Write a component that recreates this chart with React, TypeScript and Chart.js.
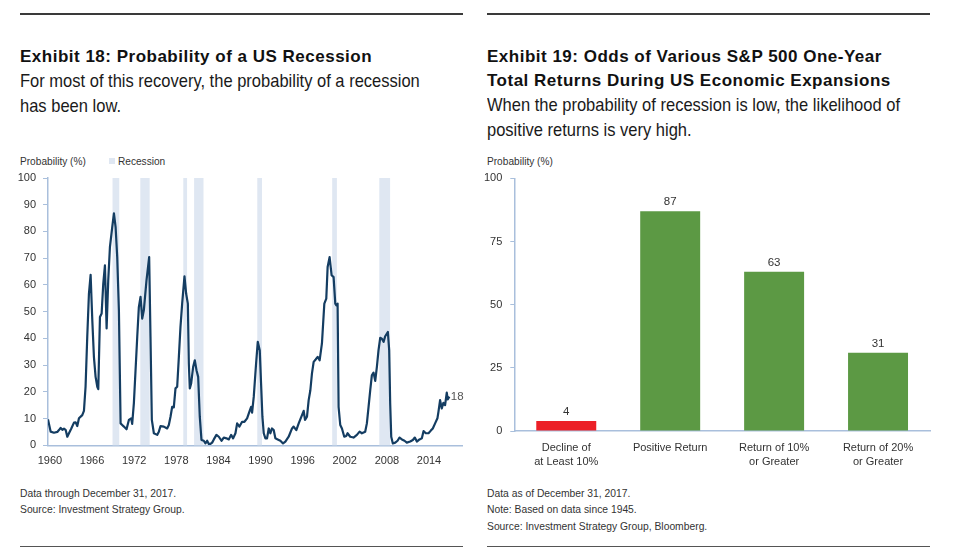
import React, { useEffect, useRef } from "react";
import { Chart, registerables } from "chart.js";

Chart.register(...registerables);

const SANS = '"Liberation Sans", Arial, sans-serif';
const AXIS = "#a9bfdc";
const TEXT = "#333333";

// ---------- Exhibit 18 data ----------
const probabilityYears = [1960.73, 1961.11, 1961.58, 1962.06, 1962.29, 1962.53, 1962.77, 1963.01, 1963.24, 1963.48, 1963.72, 1964.05, 1964.43, 1964.67, 1964.90, 1965.14, 1965.61, 1965.85, 1966.08, 1966.32, 1966.56, 1966.80, 1967.04, 1967.27, 1967.51, 1967.75, 1967.89, 1968.13, 1968.37, 1968.60, 1968.84, 1969.08, 1969.31, 1969.55, 1969.88, 1970.12, 1970.36, 1970.59, 1970.83, 1971.07, 1971.30, 1971.54, 1971.92, 1972.25, 1972.58, 1972.72, 1972.96, 1973.20, 1973.44, 1973.67, 1973.91, 1974.15, 1974.38, 1974.76, 1975.14, 1975.33, 1975.52, 1975.81, 1976.28, 1976.52, 1976.76, 1977.23, 1977.70, 1977.94, 1978.18, 1978.42, 1978.65, 1978.89, 1979.13, 1979.37, 1979.60, 1979.84, 1980.17, 1980.41, 1980.65, 1980.79, 1980.93, 1981.12, 1981.41, 1981.64, 1981.88, 1982.12, 1982.35, 1982.59, 1982.92, 1983.16, 1983.40, 1983.63, 1983.87, 1984.11, 1984.35, 1984.72, 1985.06, 1985.44, 1985.77, 1986.15, 1986.48, 1986.81, 1987.10, 1987.43, 1987.67, 1988.00, 1988.38, 1988.71, 1989.09, 1989.42, 1989.66, 1989.80, 1990.04, 1990.37, 1990.61, 1990.89, 1991.08, 1991.27, 1991.46, 1991.70, 1991.93, 1992.17, 1992.41, 1992.64, 1992.88, 1993.12, 1993.45, 1993.83, 1994.21, 1994.54, 1995.01, 1995.49, 1995.72, 1996.10, 1996.44, 1996.91, 1997.15, 1997.34, 1997.62, 1997.86, 1998.10, 1998.33, 1998.57, 1998.85, 1999.14, 1999.42, 1999.75, 2000.09, 2000.37, 2000.56, 2000.84, 2001.13, 2001.41, 2001.65, 2001.79, 2001.98, 2002.12, 2002.36, 2002.60, 2002.93, 2003.21, 2003.40, 2003.78, 2004.25, 2004.73, 2005.11, 2005.44, 2005.91, 2006.15, 2006.39, 2006.63, 2006.86, 2007.10, 2007.34, 2007.58, 2007.81, 2008.05, 2008.29, 2008.53, 2008.76, 2009.14, 2009.33, 2009.47, 2009.62, 2009.85, 2010.19, 2010.52, 2010.80, 2011.14, 2011.51, 2011.84, 2012.32, 2012.70, 2012.98, 2013.27, 2013.65, 2013.98, 2014.22, 2014.55, 2014.93, 2015.26, 2015.54, 2015.87, 2016.20, 2016.35, 2016.58, 2016.82, 2017.05, 2017.29, 2017.53, 2017.67, 2017.90];

const probabilityValues = [9.7, 5.1, 4.7, 5.0, 5.7, 6.5, 5.8, 6.2, 5.8, 3.2, 4.5, 6.3, 8.5, 8.6, 7.2, 10.1, 11.3, 12.9, 21.9, 40.5, 56.7, 63.8, 46.8, 33.1, 25.6, 21.9, 21.0, 48.0, 49.3, 60.4, 67.3, 43.7, 61.7, 74.1, 81.6, 86.8, 81.6, 70.4, 50.5, 8.2, 7.6, 7.0, 6.0, 9.5, 10.1, 8.0, 15.7, 28.1, 40.5, 51.7, 55.5, 47.4, 50.5, 61.7, 70.4, 40.5, 9.5, 4.5, 3.9, 5.1, 7.2, 7.0, 6.3, 7.6, 10.7, 14.4, 14.2, 21.3, 21.9, 33.1, 44.3, 53.0, 63.2, 56.7, 53.0, 30.6, 21.3, 23.1, 29.4, 31.8, 28.1, 25.6, 10.7, 2.0, 1.7, 0.7, 1.7, 0.5, 0.5, 1.0, 2.2, 3.9, 3.2, 1.7, 2.9, 2.6, 2.2, 3.9, 2.6, 4.5, 8.2, 7.0, 8.8, 8.8, 10.1, 12.6, 14.4, 12.2, 18.2, 30.6, 38.7, 35.6, 23.1, 10.7, 4.5, 2.6, 2.6, 6.3, 4.5, 6.3, 5.7, 2.6, 2.2, 1.7, 0.7, 1.4, 3.2, 6.3, 7.0, 5.7, 8.2, 11.3, 12.9, 9.5, 10.7, 16.9, 20.6, 26.9, 31.2, 32.1, 33.1, 31.8, 38.1, 53.0, 54.9, 66.7, 70.4, 63.6, 62.9, 53.0, 52.4, 53.0, 14.4, 7.6, 6.3, 3.2, 3.5, 4.5, 3.2, 2.9, 3.9, 5.1, 4.5, 5.1, 8.2, 14.4, 20.6, 26.2, 27.2, 24.1, 29.4, 35.6, 40.2, 39.9, 38.7, 40.8, 42.4, 35.6, 15.7, 3.2, 0.7, 1.0, 1.7, 2.9, 2.2, 1.7, 1.0, 1.4, 2.0, 2.9, 1.4, 2.2, 2.6, 5.3, 4.5, 4.5, 5.5, 6.3, 8.2, 10.1, 12.6, 16.9, 13.8, 15.9, 15.0, 19.7, 17.2, 18.2];

const recessionStarts = [1969.92, 1973.88, 1980.0, 1981.54, 1990.54, 2001.21, 2007.92];
const recessionEnds = [1970.88, 1975.21, 1980.54, 1982.88, 1991.21, 2001.88, 2009.46];

const yearTickLabels = [1960, 1966, 1972, 1978, 1984, 1990, 1996, 2002, 2008, 2014];
const probabilityTicks = [0, 10, 20, 30, 40, 50, 60, 70, 80, 90, 100];
const yearAxisEnd = 2019.8;

// ---------- Exhibit 19 data ----------
const returnCategories = [
  ["Decline of", "at Least 10%"],
  ["Positive Return"],
  ["Return of 10%", "or Greater"],
  ["Return of 20%", "or Greater"],
];
const returnOdds = [4, 87, 63, 31];
const returnColors = ["#ec2027", "#5c9944", "#5c9944", "#5c9944"];
const returnTicks = [0, 25, 50, 75, 100];

const recessionPlugin = {
  id: "recessionShade",
  beforeDatasetsDraw(chart: any) {
    const { ctx, chartArea, scales } = chart;
    const x = scales.x;
    ctx.save();
    ctx.fillStyle = "#dfe7f2";
    recessionStarts.forEach((s, i) => {
      const x0 = x.getPixelForValue(s);
      const x1 = x.getPixelForValue(recessionEnds[i]);
      ctx.fillRect(x0, chartArea.top, x1 - x0, chartArea.bottom - chartArea.top);
    });
    ctx.restore();
  },
};

const endLabelPlugin = {
  id: "endLabel",
  afterDatasetsDraw(chart: any) {
    const meta = chart.getDatasetMeta(0);
    const pts = meta.data;
    const last = pts[pts.length - 1];
    if (!last) return;
    const v = probabilityValues[pts.length - 1];
    const { ctx } = chart;
    ctx.save();
    ctx.font = `11.5px ${SANS}`;
    ctx.fillStyle = "#555";
    ctx.textAlign = "left";
    ctx.textBaseline = "middle";
    ctx.fillText(String(Math.round(v)), last.x + 1.5, last.y);
    ctx.restore();
  },
};

const barLabelPlugin = {
  id: "barLabels",
  afterDatasetsDraw(chart: any) {
    const meta = chart.getDatasetMeta(0);
    const { ctx } = chart;
    ctx.save();
    ctx.font = `11.5px ${SANS}`;
    ctx.fillStyle = TEXT;
    ctx.textAlign = "center";
    ctx.textBaseline = "alphabetic";
    meta.data.forEach((bar: any, i: number) => {
      ctx.fillText(String(returnOdds[i]), bar.x, bar.y - 6);
    });
    ctx.restore();
  },
};

function RecessionChart() {
  const ref = useRef<HTMLCanvasElement | null>(null);
  useEffect(() => {
    if (!ref.current) return;
    const points = probabilityYears.map((x, i) => ({ x, y: probabilityValues[i] }));
    const chart = new Chart(ref.current, {
      type: "line",
      data: {
        datasets: [
          {
            data: points,
            borderColor: "#143d62",
            borderWidth: 2.2,
            pointRadius: 0,
            tension: 0,
            fill: false,
            borderJoinStyle: "round",
          } as any,
        ],
      },
      options: {
        animation: false,
        responsive: false,
        maintainAspectRatio: false,
        layout: { padding: { top: 18, right: 7.3, left: 0, bottom: 0 } },
        plugins: { legend: { display: false }, tooltip: { enabled: false } },
        scales: {
          x: {
            type: "linear",
            min: probabilityYears[0],
            max: yearAxisEnd,
            grid: { display: false, drawTicks: false },
            border: { color: AXIS, width: 1.5 },
            afterBuildTicks: (s: any) => {
              s.ticks = yearTickLabels.map((y) => ({ value: y + 1 }));
            },
            ticks: {
              autoSkip: false,
              maxRotation: 0,
              padding: 9,
              color: TEXT,
              font: { size: 11, family: SANS },
              callback: (v: any) => String(Math.round(Number(v) - 1)),
            },
            afterFit: (s: any) => {
              s.height = 24.7;
            },
          },
          y: {
            min: 0,
            max: 100,
            afterBuildTicks: (s: any) => {
              s.ticks = probabilityTicks.map((v) => ({ value: v }));
            },
            grid: { drawOnChartArea: false, drawTicks: true, tickLength: 5, color: AXIS },
            border: { color: AXIS, width: 1.5 },
            ticks: { padding: 7, color: TEXT, font: { size: 11, family: SANS } },
            afterFit: (s: any) => {
              s.width = 48;
            },
          },
        },
      },
      plugins: [recessionPlugin, endLabelPlugin],
    });
    return () => chart.destroy();
  }, []);
  return (
    <canvas
      ref={ref}
      width={470}
      height={310}
      style={{ position: "absolute", left: 0, top: 160, width: 470, height: 310 }}
    />
  );
}

function ReturnsChart() {
  const ref = useRef<HTMLCanvasElement | null>(null);
  useEffect(() => {
    if (!ref.current) return;
    const chart = new Chart(ref.current, {
      type: "bar",
      data: {
        labels: returnCategories as any,
        datasets: [
          {
            data: returnOdds,
            backgroundColor: returnColors,
            borderWidth: 0,
            categoryPercentage: 1,
            barPercentage: 0.577,
          },
        ],
      },
      options: {
        animation: false,
        responsive: false,
        maintainAspectRatio: false,
        layout: { padding: { top: 18.3, right: 20, left: 0, bottom: 0 } },
        plugins: { legend: { display: false }, tooltip: { enabled: false } },
        scales: {
          x: {
            grid: { display: false, drawTicks: false },
            border: { color: AXIS, width: 1.5 },
            ticks: {
              autoSkip: false,
              maxRotation: 0,
              padding: 10,
              color: TEXT,
              font: { size: 11, family: SANS, lineHeight: 1.3 },
            },
            afterFit: (s: any) => {
              s.height = 49;
            },
          },
          y: {
            min: 0,
            max: 100,
            afterBuildTicks: (s: any) => {
              s.ticks = returnTicks.map((v) => ({ value: v }));
            },
            grid: { drawOnChartArea: false, drawTicks: true, tickLength: 4, color: AXIS },
            border: { color: AXIS, width: 1.5 },
            ticks: { padding: 8, color: TEXT, font: { size: 11, family: SANS } },
            afterFit: (s: any) => {
              s.width = 34.3;
            },
          },
        },
      },
      plugins: [barLabelPlugin],
    });
    return () => chart.destroy();
  }, []);
  return (
    <canvas
      ref={ref}
      width={470}
      height={320}
      style={{ position: "absolute", left: 480, top: 160, width: 470, height: 320 }}
    />
  );
}

const abs = (left: number, top: number, extra: React.CSSProperties = {}): React.CSSProperties => ({
  position: "absolute",
  left,
  top,
  whiteSpace: "nowrap",
  margin: 0,
  ...extra,
});

const titleStyle: React.CSSProperties = {
  fontFamily: SANS,
  fontWeight: 700,
  fontSize: 17,
  lineHeight: "24px",
  letterSpacing: "0.5px",
  color: "#111",
};
const subStyle: React.CSSProperties = {
  fontFamily: SANS,
  fontSize: 18.6,
  lineHeight: "25px",
  color: "#1a1a1a",
  transform: "scaleX(0.888)",
  transformOrigin: "0 0",
};
const noteStyle: React.CSSProperties = {
  fontFamily: SANS,
  fontSize: 11.6,
  lineHeight: "16.5px",
  color: TEXT,
  transform: "scaleX(0.89)",
  transformOrigin: "0 0",
};
const axisTitleStyle: React.CSSProperties = {
  fontFamily: SANS,
  fontSize: 11.5,
  lineHeight: "13px",
  color: TEXT,
  transform: "scaleX(0.88)",
  transformOrigin: "0 0",
};

export default function App() {
  return (
    <div
      style={{
        position: "fixed",
        left: 0,
        top: 0,
        width: 960,
        height: 557,
        background: "#fff",
        overflow: "hidden",
      }}
    >
      {/* Left panel */}
      <div style={abs(20, 12.7, { width: 443, height: 2.6, background: "#3a3a3a" })} />
      <div style={abs(20, 45.4, titleStyle)}>Exhibit 18: Probability of a US Recession</div>
      <div style={abs(20, 68, subStyle)}>
        For most of this recovery, the probability of a recession
        <br />
        has been low.
      </div>
      <div style={abs(20, 154.5, axisTitleStyle)}>Probability (%)</div>
      <div style={abs(109.3, 158.3, { width: 6, height: 6, background: "#dfe7f2" })} />
      <div style={abs(118, 154.5, axisTitleStyle)}>Recession</div>
      <RecessionChart />
      <div style={abs(20, 484.7, noteStyle)}>
        Data through December 31, 2017.
        <br />
        Source: Investment Strategy Group.
      </div>
      <div style={abs(20, 545.8, { width: 443, height: 1.3, background: "#555" })} />

      {/* Right panel */}
      <div style={abs(487, 12.7, { width: 443, height: 2.6, background: "#3a3a3a" })} />
      <div style={abs(487, 45.4, titleStyle)}>
        Exhibit 19: Odds of Various S&amp;P 500 One-Year
        <br />
        Total Returns During US Economic Expansions
      </div>
      <div style={abs(487, 92.4, subStyle)}>
        When the probability of recession is low, the likelihood of
        <br />
        positive returns is very high.
      </div>
      <div style={abs(487, 154.5, axisTitleStyle)}>Probability (%)</div>
      <ReturnsChart />
      <div style={abs(487, 484.7, noteStyle)}>
        Data as of December 31, 2017.
        <br />
        Note: Based on data since 1945.
        <br />
        Source: Investment Strategy Group, Bloomberg.
      </div>
      <div style={abs(487, 545.8, { width: 443, height: 1.3, background: "#555" })} />
    </div>
  );
}
